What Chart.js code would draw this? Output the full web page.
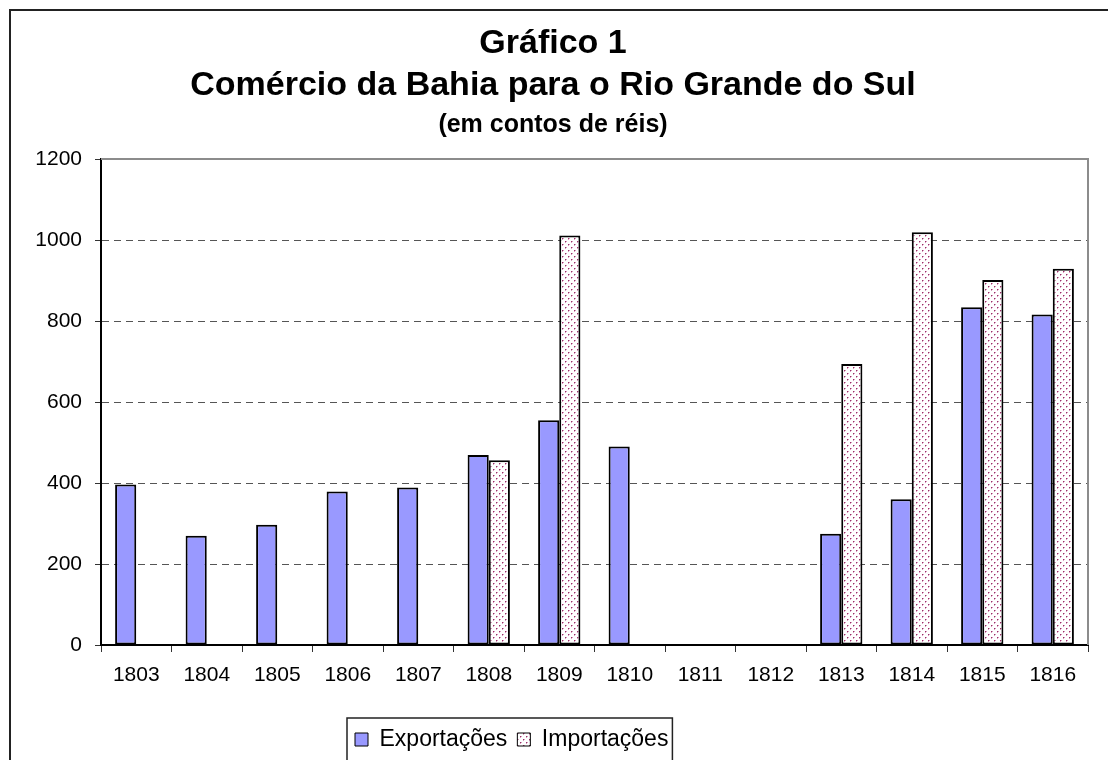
<!DOCTYPE html>
<html>
<head>
<meta charset="utf-8">
<script src="https://cdn.jsdelivr.net/npm/chart.js@4.4.1/dist/chart.umd.min.js"></script>
<style>
  html, body { margin: 0; padding: 0; background: #fff; overflow: hidden; }
  canvas { display: block; }
</style>
</head>
<body>
<canvas id="tradeChart" width="1136" height="793"></canvas>
<script>
// ===== DATA =====
const years = ["1803", "1804", "1805", "1806", "1807", "1808", "1809", "1810", "1811", "1812", "1813", "1814", "1815", "1816"];
const exportacoes = [396, 270, 297, 379, 389, 469, 555, 490, null, null, 275, 360, 834, 816];
const importacoes = [null, null, null, null, null, 456, 1011, null, null, null, 694, 1019, 901, 929];
const yTicks = [0, 200, 400, 600, 800, 1000, 1200];

const FONT = "'Liberation Sans', Arial, sans-serif";

// dotted fill like the Excel pattern
function dotPattern() {
    const c = document.createElement("canvas");
    c.width = 6;
    c.height = 6;
    const g = c.getContext("2d");
    g.fillStyle = "#fff";
    g.fillRect(0, 0, 6, 6);
    g.fillStyle = "#d89cbf";
    g.fillRect(2, 1, 1, 1);
    g.fillRect(5, 4, 1, 1);
    g.fillRect(1, 2, 1, 1);
    g.fillRect(4, 5, 1, 1);
    g.fillStyle = "#993366";
    g.fillRect(1, 1, 1, 1);
    g.fillRect(4, 4, 1, 1);
    return g.createPattern(c, "repeat");
}

// white page, outer frame, plot border, legend shift and border
const framePlugin = {
    id: "frame",
    beforeDraw(chart) {
        const c = chart.ctx;
        c.save();
        c.fillStyle = "#fff";
        c.fillRect(0, 0, chart.width, chart.height);
        c.strokeStyle = "#222";
        c.lineWidth = 2;
        c.strokeRect(10, 10, chart.width - 20, chart.height - 20);
        c.restore();
    },
    afterLayout(chart) {
        const lg = chart.legend;
        const pad = lg.options.labels.padding;
        const start = (lg.left + pad + lg.right - lg.lineWidths[0]) / 2;
        const shift = 355 - start;
        lg.left += shift;
        lg.right += shift;
    },
    afterDatasetsDraw(chart) {
        const a = chart.chartArea;
        const c = chart.ctx;
        c.save();
        c.strokeStyle = "#8c8c8c";
        c.lineWidth = 2;
        c.beginPath();
        c.moveTo(a.left, a.top);
        c.lineTo(a.right, a.top);
        c.lineTo(a.right, a.bottom);
        c.stroke();
        c.restore();
    },
    afterDraw(chart) {
        const lg = chart.legend;
        const boxes = lg.legendHitBoxes;
        if (!boxes || !boxes.length) return;
        const first = boxes[0];
        const last = boxes[boxes.length - 1];
        const c = chart.ctx;
        c.save();
        c.strokeStyle = "#222";
        c.lineWidth = 1.5;
        c.strokeRect(first.left - 8, lg.top, last.left + last.width + 12 - first.left, 80);
        c.restore();
    }
};

const ctx = document.getElementById("tradeChart").getContext("2d");

const tradeChart = new Chart(ctx, {
    type: "bar",
    data: {
        labels: years,
        datasets: [{
            label: "Exportações",
            data: exportacoes,
            backgroundColor: "#9999ff",
            borderColor: "#000",
            borderWidth: 2,
            borderSkipped: false,
        }, {
            label: "Importações",
            data: importacoes,
            backgroundColor: dotPattern(),
            borderColor: "#000",
            borderWidth: 2,
            borderSkipped: false,
        }]
    },
    options: {
        responsive: false,
        animation: false,
        events: [],
        datasets: {
            bar: { categoryPercentage: 0.6, barPercentage: 1 }
        },
        layout: { padding: { left: 18, right: 48, top: 0, bottom: 32 } },
        plugins: {
            title: {
                display: true,
                text: ["Gráfico 1", "Comércio da Bahia para o Rio Grande do Sul"],
                color: "#000",
                font: { family: FONT, size: 34, weight: "bold", lineHeight: 42 / 34 },
                padding: { top: 23, bottom: 0 }
            },
            subtitle: {
                display: true,
                text: "(em contos de réis)",
                color: "#000",
                font: { family: FONT, size: 25, weight: "bold", lineHeight: 1.2 },
                padding: { top: 3, bottom: 19 }
            },
            legend: {
                position: "bottom",
                labels: {
                    color: "#000",
                    font: { family: FONT, size: 23 },
                    boxWidth: 13,
                    boxHeight: 13,
                    padding: 10,
                    generateLabels: (chart) =>
                        Chart.defaults.plugins.legend.labels.generateLabels(chart).map(l => ({ ...l, lineWidth: 1 }))
                }
            },
            tooltip: { enabled: false }
        },
        scales: {
            x: {
                grid: {
                    drawOnChartArea: false,
                    tickLength: 7,
                    color: "#333",
                    lineWidth: 1
                },
                border: { color: "#000", width: 2 },
                ticks: {
                    color: "#000",
                    font: { family: FONT, size: 21 },
                    padding: 11,
                    maxRotation: 0
                },
                afterFit(scale) { scale.height = 73; }
            },
            y: {
                min: 0,
                max: 1200,
                afterBuildTicks(scale) { scale.ticks = yTicks.map(v => ({ value: v })); },
                grid: {
                    color: (c) => (c.tick && (c.tick.value === 0 || c.tick.value === 1200)) ? "rgba(0,0,0,0)" : "#555",
                    tickColor: "#333",
                    tickLength: 6,
                    lineWidth: 1
                },
                border: { color: "#000", width: 2, dash: [7, 5] },
                ticks: {
                    color: "#000",
                    font: { family: FONT, size: 21 },
                    padding: 13,
                    callback: (v) => String(v)
                },
                afterFit(scale) { scale.width = 83; }
            }
        }
    },
    plugins: [framePlugin]
});
</script>
</body>
</html>
